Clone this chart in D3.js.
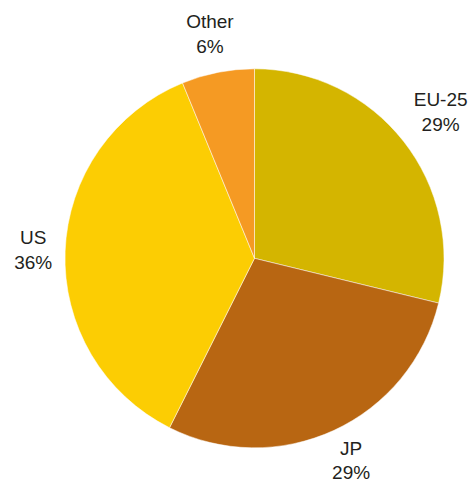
<!DOCTYPE html>
<html>
<head>
<meta charset="utf-8">
<script src="https://cdn.jsdelivr.net/npm/d3@7"></script>
<style>
  html, body { margin: 0; padding: 0; background: #fff; }
  svg { display: block; }
</style>
</head>
<body>
<svg id="chart" width="470" height="483"></svg>
<script>
const categories = ["EU-25", "JP", "US", "Other"];
const values = [28.8, 28.6, 36.4, 6.2];
const colors = ["#D4B500", "#B86612", "#FCCD03", "#F59A23"];

const width = 470, height = 483;
const cx = 254.5, cy = 258.3, radius = 189.5, labelGap = 12;

const svg = d3.select("#chart");
const g = svg.append("g").attr("transform", `translate(${cx},${cy})`);

const total = d3.sum(values);
const data = categories.map((c, i) => ({ name: c, value: values[i], color: colors[i] }));
const pie = d3.pie().value(d => d.value).sort(null);
const arc = d3.arc().innerRadius(0).outerRadius(radius);
const arcs = pie(data);

g.selectAll("path.slice")
  .data(arcs)
  .join("path")
  .attr("class", "slice")
  .attr("d", arc)
  .attr("fill", d => d.data.color)
  .attr("stroke", "#ffffff")
  .attr("stroke-width", 0.5);

const fontSize = 19, lineH = 24.5;
const labels = g.selectAll("text.label")
  .data(arcs)
  .join("text")
  .attr("class", "label")
  .attr("text-anchor", "middle")
  .attr("font-family", "'Liberation Sans', Arial, Helvetica, sans-serif")
  .attr("font-size", fontSize)
  .attr("fill", "#231F20");

labels.each(function(d) {
  const t = d3.select(this);
  t.append("tspan").attr("x", 0).attr("y", 0).text(d.data.name);
  t.append("tspan").attr("x", 0).attr("y", lineH)
    .text(Math.round(d.data.value / total * 100) + "%");
  const bb = this.getBBox();
  const mid = (d.startAngle + d.endAngle) / 2;
  const sx = Math.sin(mid), sy = -Math.cos(mid);
  const hw = bb.width / 2, hh = bb.height / 2;
  const off = hw * Math.abs(sx) + hh * Math.abs(sy);
  const r = radius + labelGap + off;
  let px = sx * r, py = sy * r;
  // keep label box inside the canvas
  const minX = -cx + hw + 2, maxX = width - cx - hw - 2;
  const minY = -cy + hh, maxY = height - cy - hh;
  px = Math.max(minX, Math.min(maxX, px));
  py = Math.max(minY, Math.min(maxY, py));
  const bcx = bb.x + hw, bcy = bb.y + hh;
  t.attr("transform", `translate(${px - bcx},${py - bcy})`);
});
</script>
</body>
</html>
